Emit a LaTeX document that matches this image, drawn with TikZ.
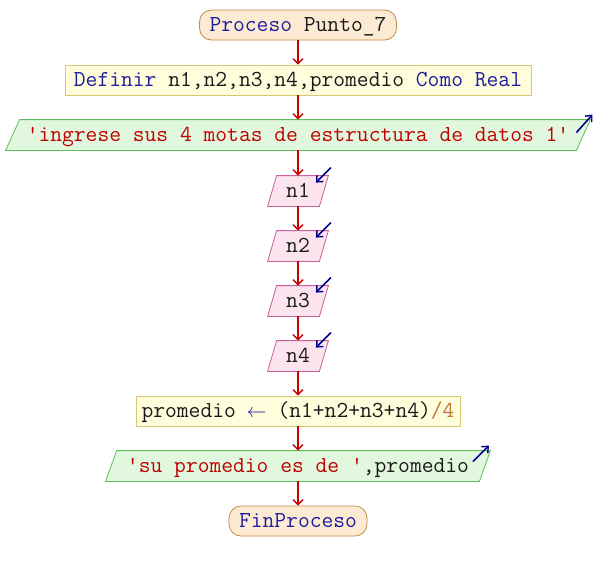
\documentclass[tikz,border=0pt]{standalone}
\usepackage{fontspec}
\usetikzlibrary{arrows.meta,backgrounds,calc}
\definecolor{kw}{HTML}{1E1EA0}
\definecolor{vr}{HTML}{1A1A1A}
\definecolor{st}{HTML}{C00000}
\definecolor{nm}{HTML}{C07838}
\definecolor{flowred}{HTML}{CC0000}
\definecolor{ioblue}{HTML}{00008C}
\definecolor{termfill}{HTML}{FCEBD2}
\definecolor{termdraw}{HTML}{C48A48}
\definecolor{deffill}{HTML}{FFFDDC}
\definecolor{defdraw}{HTML}{D6C870}
\definecolor{outfill}{HTML}{E2F8DE}
\definecolor{outdraw}{HTML}{5CBE5C}
\definecolor{infill}{HTML}{FCE4EE}
\definecolor{indraw}{HTML}{C8609A}
\newcommand\paraShape[3]{%
  \begin{scope}[on background layer]
  \draw[#3] ($(#1.south west)+(-#2,0)$) -- ($(#1.north west)+(#2,0)$) -- ($(#1.north east)+(#2,0)$) -- ($(#1.south east)+(-#2,0)$) -- cycle;
  \end{scope}}
\newcommand\asgArrow{\makebox[0.79em]{\resizebox{20pt}{!}{$\leftarrow$}}}
\begin{document}
\begin{tikzpicture}[x=1pt,y=-1pt,
  font=\ttfamily\fontsize{22.9}{24}\selectfont,
  box/.style={inner sep=0pt, minimum height=30pt, text height=14pt, text depth=2pt, line width=0.8pt},
  term/.style={box, draw=termdraw, fill=termfill, rounded corners=12pt},
  defbox/.style={box, draw=defdraw, fill=deffill},
  io/.style={box},
  outshape/.style={draw=outdraw, fill=outfill, line width=0.8pt},
  inshape/.style={draw=indraw, fill=infill, line width=0.8pt},
  flow/.style={draw=flowred, line width=1.6pt, -{Straight Barb[length=5pt,width=10pt,line width=1.4pt]}},
  ioarrow/.style={draw=ioblue, line width=1.6pt, -{Straight Barb[length=5pt,width=9pt,line width=1.4pt]}}
]
\useasboundingbox (0,0) rectangle (596,570);

\node[term, minimum width=197pt] (start) at (298,25) {\color{kw}Proceso \color{vr}Punto\_7};
\node[defbox, minimum width=466pt] (def) at (298,80) {\color{kw}Definir \color{vr}n1,n2,n3,n4,promedio \color{kw}Como Real};
\node[io, minimum width=570pt] (o1) at (298,135) {\color{st}'ingrese sus 4 motas de estructura de datos 1'};
\paraShape{o1}{7}{outshape}
\node[io, minimum width=51pt] (n1) at (298,191) {\color{vr}n1};
\paraShape{n1}{4.5}{inshape}
\node[io, minimum width=51pt] (n2) at (298,246) {\color{vr}n2};
\paraShape{n2}{4.5}{inshape}
\node[io, minimum width=51pt] (n3) at (298,301) {\color{vr}n3};
\paraShape{n3}{4.5}{inshape}
\node[io, minimum width=51pt] (n4) at (298,356) {\color{vr}n4};
\paraShape{n4}{4.5}{inshape}
\node[defbox, minimum width=324pt] (asg) at (298,411) {\color{vr}promedio \color{kw}\asgArrow{} \color{vr}(n1+n2+n3+n4)\color{nm}/4};
\node[io, minimum width=373pt] (o2) at (298,466) {\color{st}'su promedio es de '\color{vr},promedio};
\paraShape{o2}{5.5}{outshape}
\node[term, minimum width=138pt] (fin) at (298,521) {\color{kw}FinProceso};

\draw[flow] (start) -- (def);
\draw[flow] (def) -- (o1);
\draw[flow] (o1) -- (n1);
\draw[flow] (n1) -- (n2);
\draw[flow] (n2) -- (n3);
\draw[flow] (n3) -- (n4);
\draw[flow] (n4) -- (asg);
\draw[flow] (asg) -- (o2);
\draw[flow] (o2) -- (fin);

% output markers
\draw[ioarrow] ($(o1.north east)+(-7,13)$) -- ($(o1.north east)+(9,-5)$);
\draw[ioarrow] ($(o2.north east)+(-12,11)$) -- ($(o2.north east)+(4,-5)$);
% input markers
\foreach \n in {n1,n2,n3,n4}
  \draw[ioarrow] ($(\n.north east)+(7,-8)$) -- ($(\n.north east)+(-8,7)$);
\end{tikzpicture}
\end{document}
